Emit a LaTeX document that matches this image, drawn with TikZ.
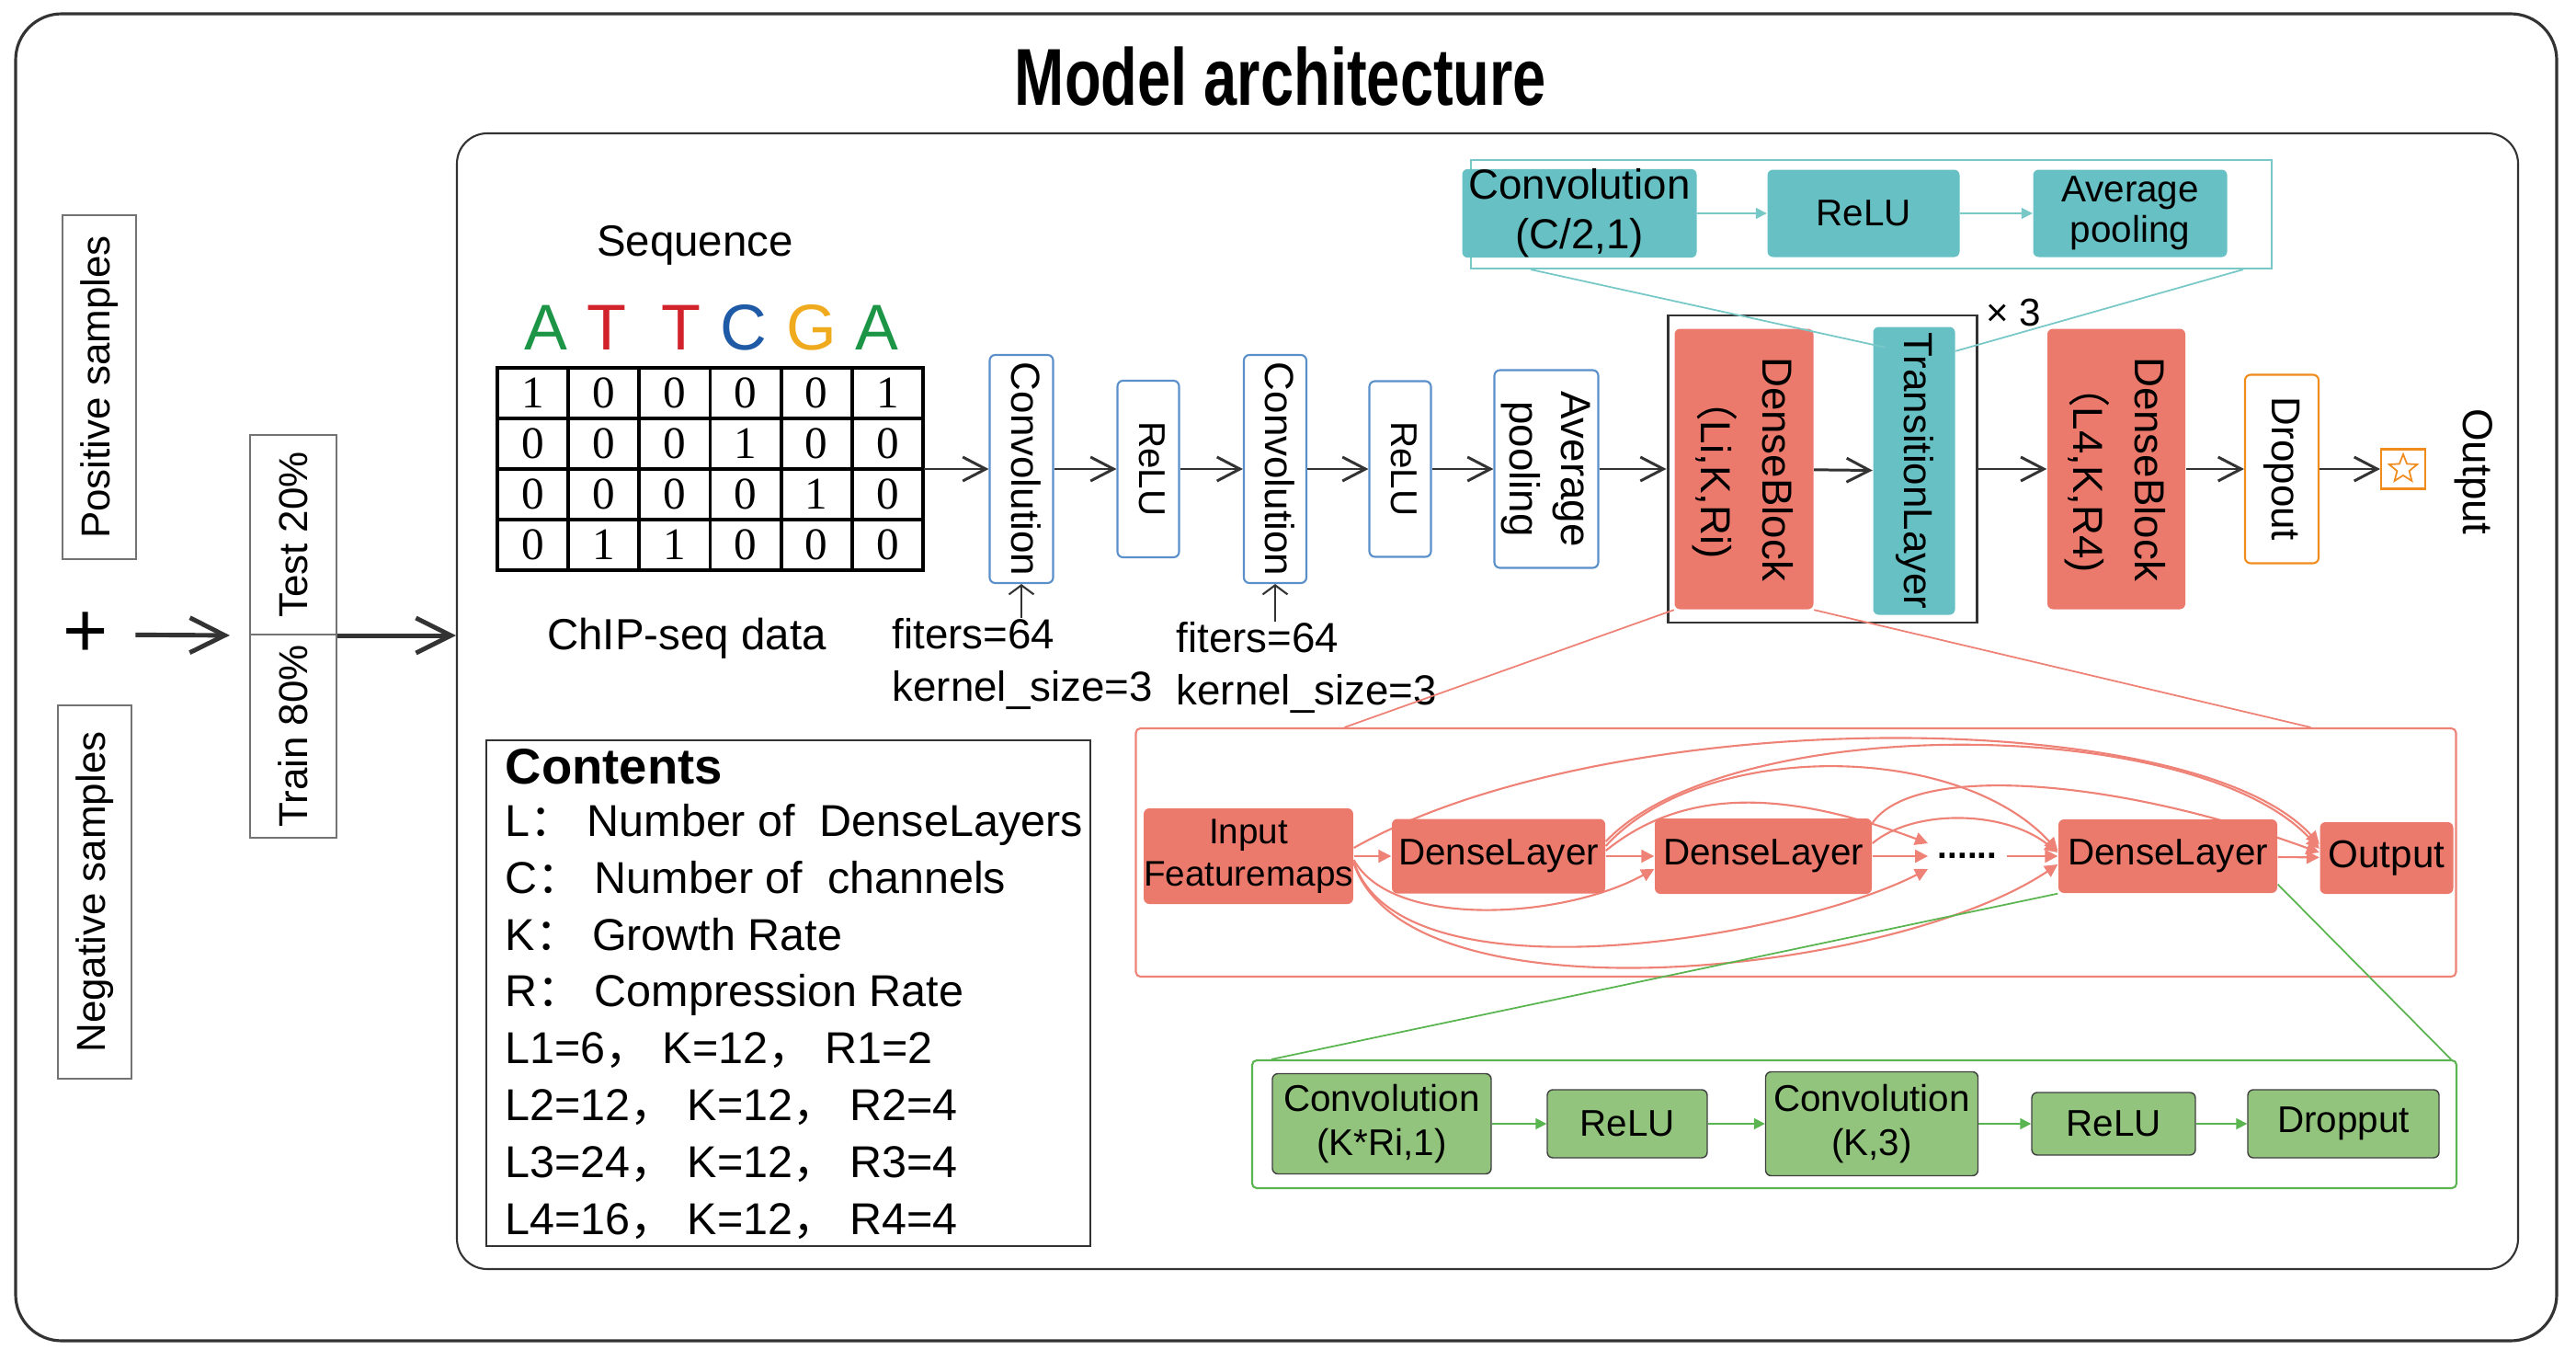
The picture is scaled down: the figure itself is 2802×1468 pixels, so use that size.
\documentclass[tikz,border=0pt]{standalone}
\usepackage{fontspec}
\setmainfont{Liberation Sans}
\newfontfamily\digitfont{Liberation Serif}
\newfontfamily\cjk{Noto Sans CJK SC}
\newfontfamily\titlefont{Liberation Sans}[FakeStretch=0.74]
\usetikzlibrary{positioning}
\usetikzlibrary{calc}
\usetikzlibrary{arrows.meta}
\usetikzlibrary{shapes.geometric}
\usetikzlibrary{backgrounds}
\definecolor{dbred}{RGB}{236,122,108}
\definecolor{dlline}{RGB}{239,130,118}
\definecolor{tlteal}{RGB}{102,192,196}
\definecolor{tlline}{RGB}{120,200,200}
\definecolor{grfill}{RGB}{147,196,125}
\definecolor{grline}{RGB}{90,180,80}
\definecolor{cvblue}{RGB}{91,143,201}
\definecolor{dporange}{RGB}{240,140,30}
\definecolor{arrowgray}{RGB}{51,51,51}
\definecolor{ntgreen}{RGB}{28,150,70}
\definecolor{ntred}{RGB}{210,35,45}
\definecolor{ntblue}{RGB}{30,90,165}
\definecolor{ntorange}{RGB}{240,170,30}
\newcommand{\vdown}[1]{\rotatebox{-90}{\begin{tabular}{@{}c@{}}#1\end{tabular}}}
\newcommand{\vup}[1]{\rotatebox{90}{#1}}
\newcommand{\zc}{{\cjk ：}}
\newcommand{\zm}{{\cjk ，}}
\newcommand{\zp}{{\cjk （}}
\tikzset{mainarrow/.style={draw=arrowgray, line width=0.85pt, -{Straight Barb[length=2.5mm,width=2.6mm]}},
bigarrow/.style={draw=arrowgray, line width=1.4pt, -{Straight Barb[length=3.8mm,width=3.8mm]}},
filtarrow/.style={draw=arrowgray, line width=0.6pt, -{Straight Barb[length=1mm,width=2.7mm]}}}

\begin{document}
\begin{tikzpicture}[x=0.1mm, y=-0.1mm, rc/.style={rounded corners=0.6mm},
sbox/.style={draw=black!55, line width=0.6pt, inner sep=0, font=\fontsize{12.5}{15}\selectfont},
cvbox/.style={draw=cvblue, line width=0.6pt, rc, inner sep=0, font=\fontsize{12.5}{15}\selectfont},
dbbox/.style={fill=dbred, rc, inner sep=0, font=\fontsize{13}{19}\selectfont},
tlbox/.style={fill=tlteal, rc, inner sep=0, align=center, font=\fontsize{12.5}{15}\selectfont},
dpbox/.style={draw=dporange, line width=0.6pt, rc, inner sep=0, font=\fontsize{12.5}{15}\selectfont},
dlbox/.style={fill=dbred, rc, inner sep=0, align=center, font=\fontsize{11.5}{13}\selectfont},
grbox/.style={fill=grfill, draw=black!75, line width=0.4pt, rc, inner sep=0, align=center, font=\fontsize{11.5}{13.7}\selectfont},
cell/.style={draw, line width=1.1pt, minimum width=7.717mm, minimum height=5.5mm, inner sep=0, font=\digitfont\fontsize{14}{14}\selectfont},
tealarrow/.style={draw=tlline, line width=0.5pt, -{Triangle[length=1.2mm,width=1.2mm]}},
dlarrow/.style={draw=dlline, line width=0.6pt, -{Triangle[length=1.4mm,width=1.4mm]}},
grarrow/.style={draw=grline, line width=0.5pt, -{Triangle[length=1.2mm,width=1.2mm]}}]
\useasboundingbox (0,0) rectangle (2802,1468);
\node (outer) [draw=arrowgray, line width=0.9pt, rounded corners=5mm, minimum width=276.4mm, minimum height=144.3mm, inner sep=0] at (1399,736.5) {};
\node (inner) [draw=arrowgray, line width=0.6pt, rounded corners=3.3mm, minimum width=224.2mm, minimum height=123.5mm, inner sep=0] at (1618,762.5) {};
\node (title) [anchor=base, font=\titlefont\bfseries\fontsize{25}{30}\selectfont] at (1393,114) {Model architecture};
% samples and split
\node (pos) [sbox, minimum width=8mm, minimum height=37.4mm] at (108,421) {\vup{Positive samples}};
\node (neg) [sbox, minimum width=8mm, minimum height=40.6mm] at (103,970) {\vup{Negative samples}};
\node (plus) [inner sep=0, font=\fontsize{24}{24}\selectfont] at (93,690) {+};
\node (test) [sbox, minimum width=9.4mm, minimum height=21.7mm] at (319,581.5) {\vup{Test 20\%}};
\node (train) [sbox, minimum width=9.4mm, minimum height=22.1mm] at (319,800.5) {\vup{Train 80\%}};
\draw[bigarrow, shorten <=2.9mm, shorten >=2.1mm] (plus) -- (test.south west);
\draw[bigarrow] (test.south east) -- (test.south east -| inner.west);
% one-hot input
\node (seq) [anchor=base, font=\fontsize{13.5}{16}\selectfont] at (756,278) {Sequence};
\foreach \ch/\col/\xx [count=\i] in {A/ntgreen/594,T/ntred/660,T/ntred/741,C/ntblue/809,G/ntorange/883,A/ntgreen/954}
  \node (nt\i) [anchor=base, text=\col, font=\fontsize{20}{24}\selectfont] at (\xx,380) {\ch};
\node (onehot) [minimum width=46.3mm, minimum height=22mm, inner sep=0] at (772.5,510) {};
\foreach \row [count=\r] in {{1,0,0,0,0,1},{0,0,0,1,0,0},{0,0,0,0,1,0},{0,1,1,0,0,0}}
  \foreach \d [count=\c] in \row
    \node (cell\r\c) [cell] at ({541+77.17*(\c-0.5)},{400+55*(\r-0.5)}) {\d};
\node (chip) [anchor=base, font=\fontsize{13.5}{16}\selectfont] at (747,706) {ChIP-seq data};
% main row
\node (conv1) [cvbox, minimum width=6.9mm, minimum height=24.8mm] at (1111,510) {\vdown{Convolution}};
\node (relu1) [cvbox, minimum width=6.7mm, minimum height=19.2mm, font=\fontsize{11.5}{14}\selectfont] at (1249,510) {\vdown{ReLU}};
\node (conv2) [cvbox, minimum width=6.8mm, minimum height=24.8mm] at (1387,510) {\vdown{Convolution}};
\node (relu2) [cvbox, minimum width=6.7mm, minimum height=19.1mm, font=\fontsize{11.5}{14}\selectfont] at (1523,510) {\vdown{ReLU}};
\node (avgp) [cvbox, minimum width=11.3mm, minimum height=21.5mm, font=\fontsize{13}{16}\selectfont] at (1682,510) {\vdown{Average\\pooling}};
\node (grp) [draw=arrowgray, line width=0.85pt, minimum width=33.6mm, minimum height=33.4mm, inner sep=0] at (1982,510) {};
\node (times3) [font=\fontsize{12}{14}\selectfont] at (2190,340) {× 3};
\node (db1) [dbbox, minimum width=15.1mm, minimum height=30.5mm] at (1897,510) {\vdown{DenseBlock\\\zp Li,K,Ri)}};
\node (tl) [tlbox, minimum width=8.9mm, minimum height=31.3mm] at (2082,512) {\vdown{TransitionLayer}};
\node (db2) [dbbox, minimum width=15mm, minimum height=30.5mm] at (2302,510) {\vdown{DenseBlock\\\zp L4,K,R4)}};
\node (drop) [dpbox, minimum width=8mm, minimum height=20.5mm] at (2482,510) {\vdown{Dropout}};
\node (starbox) [draw=dporange, line width=0.6pt, minimum width=4.8mm, minimum height=4.3mm, inner sep=0] at (2614,510) {};
\node (starmk) [star, star points=5, star point ratio=2.3, draw=dporange, line width=0.5pt, minimum size=3.2mm, inner sep=0] at (starbox.center) {};
\node (outlbl) [font=\fontsize{13}{15}\selectfont] at (2690,513) {\vdown{Output}};
\draw[mainarrow] (onehot) -- (conv1);
\draw[mainarrow] (conv1) -- (relu1);
\draw[mainarrow] (relu1) -- (conv2);
\draw[mainarrow] (conv2) -- (relu2);
\draw[mainarrow] (relu2) -- (avgp);
\draw[mainarrow] (avgp) -- (grp);
\draw[mainarrow] (db1) -- (tl);
\draw[mainarrow] (grp) -- (db2);
\draw[mainarrow] (db2) -- (drop);
\draw[mainarrow] (drop) -- (starbox);
% filter settings
\node (filt1) [anchor=north west, align=left, inner sep=0, font=\fontsize{13}{16}\selectfont] at (970,672) {fiters=64\\kernel\_size=3};
\node (filt2) [anchor=north west, align=left, inner sep=0, font=\fontsize{13}{16}\selectfont] at (1279,676) {fiters=64\\kernel\_size=3};
\draw[filtarrow] (conv1.south |- filt1.north) -- (conv1.south);
\draw[filtarrow] (conv2.south |- filt2.north) -- (conv2.south);
% transition layer detail
\node (tgrp) [draw=tlline, line width=0.6pt, minimum width=87.1mm, minimum height=11.8mm, inner sep=0] at (2035.5,233) {};
\node (tconv) [tlbox, minimum width=25.5mm, minimum height=9.5mm, font=\fontsize{13}{15.3}\selectfont] at (1718,232) {Convolution\\(C/2,1)};
\node (trelu) [tlbox, minimum width=20.9mm, minimum height=9.5mm, font=\fontsize{11.5}{12.5}\selectfont] at (2027,232) {ReLU};
\node (tavg) [tlbox, minimum width=21.1mm, minimum height=9.5mm, font=\fontsize{11.5}{12.5}\selectfont] at (2317,232) {Average\\pooling};
\draw[tealarrow] (tconv) -- (trelu);
\draw[tealarrow] (trelu) -- (tavg);
\draw[tlline, line width=0.5pt] ($(tgrp.south west)+(66,0)$) -- ($(tl.north west)+(14,23)$);
\draw[tlline, line width=0.5pt] ($(tgrp.south east)+(-32,0)$) -- ($(tl.north east)+(0,27)$);
% dense block detail
\node (dlframe) [draw=dlline, line width=0.6pt, rounded corners=0.5mm, minimum width=143.6mm, minimum height=27mm, inner sep=0] at (1953.5,927) {};
\node (fin) [dlbox, minimum width=22.1mm, minimum height=10.4mm, font=\fontsize{11}{13}\selectfont] at (1358,931) {Input\\Featuremaps};
\node (dl1) [dlbox, minimum width=23.2mm, minimum height=8.1mm] at (1630,931) {DenseLayer};
\node (dl2) [dlbox, minimum width=23.6mm, minimum height=8.2mm] at (1918,931) {DenseLayer};
\node (dots) [inner sep=1mm, font=\bfseries\fontsize{11}{13}\selectfont] at (2140,931) {......};
\node (dl3) [dlbox, minimum width=23.8mm, minimum height=8mm] at (2358,931) {DenseLayer};
\node (fout) [dlbox, minimum width=14.5mm, minimum height=7.8mm, font=\fontsize{12}{14}\selectfont] at (2596,933) {Output};
\draw[dlarrow] (fin) -- (dl1);
\draw[dlarrow] (dl1) -- (dl2);
\draw[dlarrow] (dl2) -- (dots);
\draw[dlarrow] (dots) -- (dl3);
\draw[dlarrow] (dl3) -- (fout);
\begin{scope}[on background layer]
\draw[dlarrow] ($(fin.east)+(0,-9)$) .. controls +(280,-158) and +(-139,-152) .. ($(fout.west)+(0,-15)$);
\draw[dlarrow] ($(dl1.east)+(0,-16)$) .. controls +(134,-141) and +(-134,-147) .. ($(fout.west)+(0,-10)$);
\draw[dlarrow] ($(dl1.east)+(0,-11)$) .. controls +(104,-115) and +(-111,-120) .. ($(dl3.west)+(0,-6)$);
\draw[dlarrow] ($(dl1.east)+(0,-6)$) .. controls +(84,-68) and +(-157,-59) .. ($(dots.west)+(0,-14)$);
\draw[dlarrow] ($(dl2.east)+(0,-36)$) .. controls +(44,-65) and +(-224,-82) .. ($(fout.west)+(0,-6)$);
\draw[dlarrow] ($(dl2.east)+(0,-14)$) .. controls +(44,-37) and +(-59,-47) .. ($(dl3.west)+(0,-4)$);
\draw[dlarrow] ($(fin.east)+(0,4)$) .. controls +(41,75) and +(-100,55) .. ($(dl2.west)+(0,14)$);
\draw[dlarrow] ($(fin.east)+(0,6)$) .. controls +(51,155) and +(-149,76) .. ($(dots.west)+(0,14)$);
\draw[dlarrow] ($(fin.east)+(0,8)$) .. controls +(61,177) and +(-179,120) .. ($(dl3.west)+(0,9)$);
\end{scope}
\draw[dlline, line width=0.5pt] (db1.south west) -- ($(dlframe.north west)+(228,0)$);
\draw[dlline, line width=0.5pt] (db1.south east) -- ($(dlframe.north east)+(-159,0)$);
% dense layer detail
\node (gframe) [draw=grline, line width=0.6pt, rounded corners=0.5mm, minimum width=131mm, minimum height=13.9mm, inner sep=0] at (2017,1222.5) {};
\node (gconv1) [grbox, minimum width=23.8mm, minimum height=10.9mm] at (1503,1222) {Convolution\\(K*Ri,1)};
\node (grelu1) [grbox, minimum width=17.4mm, minimum height=7.4mm] at (1770,1222) {ReLU};
\node (gconv2) [grbox, minimum width=23.1mm, minimum height=11.3mm] at (2036,1222) {Convolution\\(K,3)};
\node (grelu2) [grbox, minimum width=17.8mm, minimum height=6.8mm] at (2299,1222) {ReLU};
\node (gdrop) [grbox, minimum width=20.8mm, minimum height=7.4mm] at (2549,1222) {Dropput};
\draw[grarrow] (gconv1) -- (grelu1);
\draw[grarrow] (grelu1) -- (gconv2);
\draw[grarrow] (gconv2) -- (grelu2);
\draw[grarrow] (grelu2) -- (gdrop);
\draw[grline, line width=0.5pt] (dl3.south west) -- ($(gframe.north west)+(22,0)$);
\draw[grline, line width=0.5pt] ($(dl3.south east)+(0,-10)$) -- ($(gframe.north east)+(-7,0)$);
% legend
\node (legend) [draw=arrowgray, line width=0.6pt, minimum width=65.7mm, minimum height=55mm, anchor=north west, inner sep=0] at (528,804) {};
\node (legendtxt) [anchor=north west, align=left, inner sep=0, font=\fontsize{13.8}{17.6}\selectfont] at (549,814) {{\bfseries\fontsize{15.5}{17}\selectfont Contents}\\[-1.5pt]
L\zc\ Number of\ \ DenseLayers\\
C\zc\ Number of\ \ channels\\
K\zc\ Growth Rate\\
R\zc\ Compression Rate\\
L1=6\zm\ K=12\zm\ R1=2\\
L2=12\zm\ K=12\zm\ R2=4\\
L3=24\zm\ K=12\zm\ R3=4\\
L4=16\zm\ K=12\zm\ R4=4};
\end{tikzpicture}
\end{document}
